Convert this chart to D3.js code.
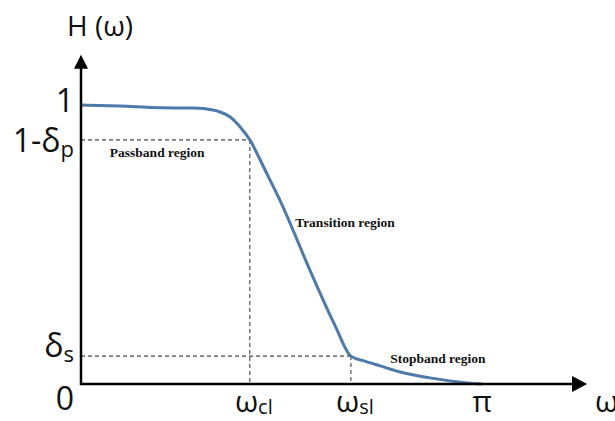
<!DOCTYPE html>
<html>
<head>
<meta charset="utf-8">
<script src="https://cdn.jsdelivr.net/npm/d3@7"></script>
<style>
  body { margin: 0; background: #fff; }
  svg { display: block; }
</style>
</head>
<body>
<svg id="chart"></svg>
<script>
//response curve, x as a fraction of pi, y normalised to the passband gain
const curveX = [0, 0.097, 0.197, 0.280, 0.329, 0.347, 0.372, 0.397, 0.421, 0.459, 0.496, 0.576, 0.633, 0.673, 0.708, 0.746, 0.796, 0.870, 0.963, 1.0]
const curveY = [1.0, 0.996, 0.990, 0.989, 0.982, 0.975, 0.957, 0.921, 0.875, 0.767, 0.659, 0.391, 0.211, 0.100, 0.082, 0.065, 0.043, 0.022, 0.004, 0]

//spec points
const passEdge = 0.421 //omega_c
const stopEdge = 0.673 //omega_s
const passLevel = 0.875 //1 - delta_p
const stopLevel = 0.100 //delta_s

//tick labels: main glyph + subscript
const yTickValues = [1, passLevel, stopLevel, 0]
const yTickLabels = [["1", ""], ["1-δ", "p"], ["δ", "s"], ["0", ""]]
const xTickValues = [passEdge, stopEdge, 1]
const xTickLabels = [["ω", "cl"], ["ω", "sl"], ["π", ""]]

const regionNames = ["Passband region", "Transition region", "Stopband region"]
const regionX = [0.072, 0.534, 0.771]
const regionY = [0.814, 0.563, 0.075]

const width = 615, height = 421

let svg = d3.select("#chart")
  .attr("width", width)
  .attr("height", height)

let x = d3.scaleLinear().domain([0, 1]).range([81, 482])
let y = d3.scaleLinear().domain([0, 1]).range([384, 105])

const bigFont = "'Open Sans', 'DejaVu Sans', sans-serif"

//dashed guides
let guides = svg.append("g")
  .attr("stroke", "#444")
  .attr("stroke-width", 1.1)
  .attr("stroke-dasharray", "4,3")
  .attr("fill", "none")

;[[passEdge, passLevel], [stopEdge, stopLevel]].forEach(([gx, gy]) => {
  guides.append("line")
    .attr("x1", x(0)).attr("x2", x(gx))
    .attr("y1", y(gy)).attr("y2", y(gy))
  guides.append("line")
    .attr("x1", x(gx)).attr("x2", x(gx))
    .attr("y1", y(gy)).attr("y2", y(0))
})

//the response
let line = d3.line()
  .x(d => x(d[0]))
  .y(d => y(d[1]))
  .curve(d3.curveMonotoneX)

svg.append("path")
  .datum(curveX.map((v, i) => [v, curveY[i]]))
  .attr("fill", "none")
  .attr("stroke", "#4d7aa9")
  .attr("stroke-width", 3)
  .attr("stroke-linejoin", "round")
  .attr("d", line)

//axes with arrow heads
let axisTop = 1.18, axisRight = 1.262
svg.append("line")
  .attr("x1", x(0)).attr("x2", x(0))
  .attr("y1", y(0) + 1).attr("y2", y(axisTop) + 12)
  .attr("stroke", "#000").attr("stroke-width", 2.5)
svg.append("line")
  .attr("x1", x(0) - 1).attr("x2", x(axisRight) - 14)
  .attr("y1", y(0)).attr("y2", y(0))
  .attr("stroke", "#000").attr("stroke-width", 2.5)

svg.append("path")
  .attr("d", `M${x(0)},${y(axisTop)} L${x(0) - 7},${y(axisTop) + 14} L${x(0) + 7},${y(axisTop) + 14} Z`)
  .attr("fill", "#000")
svg.append("path")
  .attr("d", `M${x(axisRight)},${y(0)} L${x(axisRight) - 15},${y(0) - 8} L${x(axisRight) - 15},${y(0) + 8} Z`)
  .attr("fill", "#000")

//y tick labels, right aligned against the axis
let yDy = [7, 12, 1, 26]
yTickValues.forEach((v, i) => {
  let t = svg.append("text")
    .attr("x", 74)
    .attr("y", y(v) + yDy[i])
    .attr("text-anchor", "end")
    .attr("font-family", bigFont)
    .attr("font-size", 32)
    .attr("fill", "#111")
  t.append("tspan").text(yTickLabels[i][0])
  if (yTickLabels[i][1])
    t.append("tspan").attr("font-size", 22).attr("dy", 5).text(yTickLabels[i][1])
})

//x tick labels, whole label centred on the tick
xTickValues.forEach((v, i) => {
  let t = svg.append("text")
    .attr("x", x(v) + (xTickLabels[i][1] ? 4 : 0))
    .attr("y", 412)
    .attr("text-anchor", "middle")
    .attr("font-family", bigFont)
    .attr("font-size", 30)
    .attr("fill", "#111")
  t.append("tspan").text(xTickLabels[i][0])
  if (xTickLabels[i][1])
    t.append("tspan").attr("font-size", 20).attr("dy", 2).text(xTickLabels[i][1])
})

//axis titles
svg.append("text")
  .attr("x", 67).attr("y", 36)
  .attr("font-family", bigFont)
  .attr("font-size", 28)
  .attr("fill", "#111")
  .text("H (ω)")

//the reference crops this one at the right edge too
svg.append("text")
  .attr("x", 595).attr("y", 412)
  .attr("font-family", bigFont)
  .attr("font-size", 30)
  .attr("fill", "#111")
  .text("ω")

//region notes
regionNames.forEach((name, i) => {
  svg.append("text")
    .attr("x", x(regionX[i]))
    .attr("y", y(regionY[i]))
    .attr("font-family", "'Liberation Serif', 'Times New Roman', serif")
    .attr("font-weight", "bold")
    .attr("font-size", 13.5)
    .attr("fill", "#111")
    .text(name)
})
</script>
</body>
</html>
